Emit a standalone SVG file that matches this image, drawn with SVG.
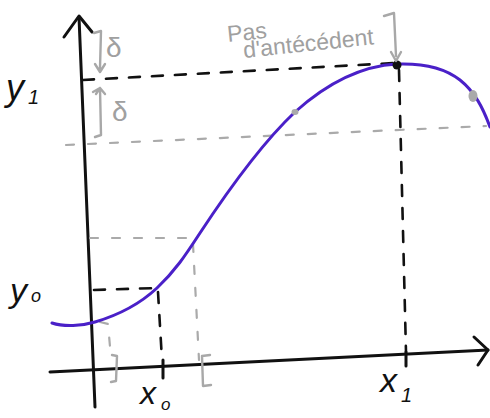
<svg xmlns="http://www.w3.org/2000/svg" width="490" height="418" viewBox="0 0 490 418">
<style>
.ax{fill:none;stroke:#111;stroke-width:3;stroke-linecap:round;stroke-linejoin:round}
.bd{fill:none;stroke:#111;stroke-width:2.6;stroke-dasharray:11 12;stroke-linecap:round}
.gd{fill:none;stroke:#aaa;stroke-width:2.2;stroke-dasharray:8 14;stroke-linecap:round}
.gs{fill:none;stroke:#a8a8a8;stroke-width:2.4;stroke-linecap:round;stroke-linejoin:round}
.curve{fill:none;stroke:#4a20c8;stroke-width:3;stroke-linecap:round}
.lbl{font-family:"Liberation Sans",Arial,sans-serif;fill:#111;font-style:italic}
.gt{font-family:"Liberation Sans",Arial,sans-serif;fill:#a0a0a0}
</style>
<rect width="490" height="418" fill="#fff"/>
<g id="axes">
<path class="ax" d="M95,407 L79,17"/>
<path class="ax" d="M64,37 L79,16 L92,32"/>
<path class="ax" d="M50,372 L488,350"/>
<path class="ax" d="M474,337 L488,350 L478,365"/>
<path class="ax" d="M163,360 L163,378"/>
<path class="ax" d="M406,352 L406,366"/>
</g>
<g id="connectors">
<path class="bd" d="M83,80 L395,63"/>
<path class="bd" d="M399,70 L406,352"/>
<path class="bd" d="M94,290 L157,288"/>
<path class="bd" d="M158,292 L162,360"/>
<path class="gd" d="M66,145 L486,126"/>
<path class="gd" d="M90,238 L193,238"/>
<path class="gd" d="M193,244 L199,360"/>
<path class="gd" d="M100,322 L108,324 L111,358"/>
</g>
<g id="curve">
<path class="curve" d="M52,323 C64,327 82,326 95,322 C122,314 142,302 157,288 C175,271 185,256 200,233 C225,195 260,145 295,112 C325,85 360,66 397,64 C425,63 445,68 460,80 C475,92 483,108 490,127"/>
<circle cx="397" cy="65" r="4.5" fill="#111"/>
<ellipse cx="295" cy="112" rx="3.5" ry="3" fill="#aaa"/>
<ellipse cx="473" cy="96" rx="4.5" ry="6" fill="#aaa"/>
</g>
<g id="delta-brackets">
<path class="gs" d="M94,33 L101,31 L100,68 M95,64 L100,72 L105,64"/>
<path class="gs" d="M93,92 L100,88 L101,135 L95,137 M96,94 L100,88 L105,94"/>
<text class="gt" x="106" y="57" font-size="28">δ</text>
<text class="gt" x="112" y="121" font-size="28">δ</text>
</g>
<g id="interval-brackets">
<path class="gs" d="M112,355 L117,356 L116,381 L111,382"/>
<path class="gs" d="M210,355 L202,356 L203,386 L211,385"/>
</g>
<g id="note">
<text class="gt" x="228" y="42" font-size="23" transform="rotate(-6 228 42)">Pas</text>
<text class="gt" x="244" y="58" font-size="23" transform="rotate(-6 244 58)">d'antécédent</text>
<path class="gs" d="M384,16 L394,13 L396,56 M391,52 L396,61 L401,52"/>
</g>
<g id="labels">
<text class="lbl" x="6" y="100" font-size="36">y</text>
<text class="lbl" x="28" y="104" font-size="20">1</text>
<text class="lbl" x="10" y="302" font-size="34">y</text>
<text class="lbl" x="31" y="302" font-size="18">o</text>
<text class="lbl" x="140" y="404" font-size="32">x</text>
<text class="lbl" x="161" y="410" font-size="17">o</text>
<text class="lbl" x="380" y="392" font-size="34">x</text>
<text class="lbl" x="401" y="402" font-size="20">1</text>
</g>
</svg>
